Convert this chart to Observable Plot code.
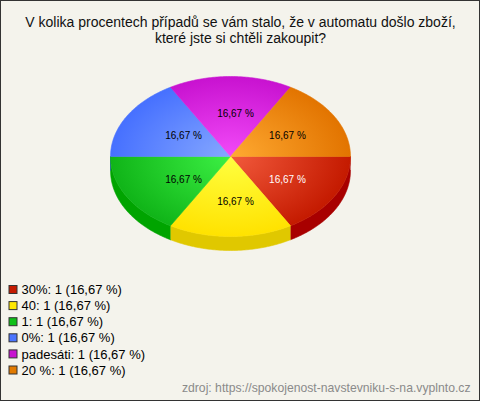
<!DOCTYPE html>
<html><head><meta charset="utf-8">
<script src="https://cdn.jsdelivr.net/npm/d3@7"></script>
<script src="https://cdn.jsdelivr.net/npm/@observablehq/plot@0.6"></script>
<style>
html,body{margin:0;padding:0;background:#fff;}
#chart{position:relative;width:480px;height:401px;background:#f4f3ec;overflow:hidden;}
#chart svg{position:absolute;left:0;top:0;}
#border{position:absolute;left:0;top:0;width:480px;height:401px;box-sizing:border-box;border:1px solid #333;pointer-events:none;z-index:2;}
</style></head><body>
<div id="chart"><div id="border"></div></div>
<script>
// ---- data ----
const titleLines = ["V kolika procentech případů se vám stalo, že v automatu došlo zboží,", "které jste si chtěli zakoupit?"];
const categories = ["30%", "40", "1", "0%", "padesáti", "20 %"];
const counts = [1, 1, 1, 1, 1, 1];
const sourceText = ["zdroj: https://spokojenost-navstevniku-s-na.vyplnto.cz"];

// ---- styles ----
const topInner = ["#f25a3c", "#ffff40", "#3cf044", "#86a8ff", "#f24af8", "#ffaa32"];
const topOuter = ["#c41a00", "#ffe200", "#10b418", "#4670ff", "#c812d0", "#e27400"];
const sideColors = ["#a80000", "#e0c800", "#00a400", "#2850d0", "#9a00a8", "#b85800"];
const legendColors = ["#c41a00", "#ffe800", "#10c018", "#4a74ff", "#c812d0", "#e27a00"];
const font = "Arial, 'Liberation Sans', sans-serif";

// ---- layout ----
const W = 480, H = 401, cx = 230, cy = 156, rx = 120, ry = 80, depth = 14;
const labelKx = 0.5, labelKy = 0.55, labelDx = 5, labelDy = 1;
const legendX = 9, legendY0 = 289.5, legendStep = 16.1;

const total = d3.sum(counts);
const fmt = v => (v / total * 100).toFixed(2).replace(".", ",") + " %";
const arcs = d3.pie().sort(null).startAngle(Math.PI / 2).endAngle(Math.PI / 2 + 2 * Math.PI)(counts);
const slices = arcs.map((a, i) => ({
  i, cat: categories[i], value: a.value,
  p0: a.startAngle - Math.PI / 2, p1: a.endAngle - Math.PI / 2
}));
const pt = (phi, dy = 0) => ({x: cx + rx * Math.cos(phi), y: cy + ry * Math.sin(phi) + dy});
function arcPts(p0, p1, dy = 0, n = 80) {
  const out = [];
  for (let k = 0; k <= n; k++) out.push(pt(p0 + (p1 - p0) * k / n, dy));
  return out;
}

const marks = [];
// side walls (front half only)
slices.forEach(s => {
  const lo = Math.max(s.p0, 0), hi = Math.min(s.p1, Math.PI);
  if (lo < hi) {
    const pts = [...arcPts(lo, hi, 0), ...arcPts(hi, lo, depth)];
    marks.push(Plot.line(pts, {x: "x", y: "y", fill: sideColors[s.i], stroke: sideColors[s.i], strokeWidth: 0.6, curve: "linear"}));
  }
});
// top faces
slices.forEach(s => {
  const pts = [{x: cx, y: cy}, ...arcPts(s.p0, s.p1, 0), {x: cx, y: cy}];
  marks.push(Plot.line(pts, {x: "x", y: "y", fill: `url(#g${s.i})`, stroke: `url(#g${s.i})`, strokeWidth: 0.6, curve: "linear"}));
});
// slice labels
marks.push(Plot.text(slices, {
  x: d => cx + labelKx * rx * Math.cos((d.p0 + d.p1) / 2) + labelDx,
  y: d => cy + labelKy * ry * Math.sin((d.p0 + d.p1) / 2) + labelDy,
  text: d => fmt(d.value),
  fill: d => d.i === 0 ? "#ffffff" : "#000000",
  fontSize: 10, fontFamily: font, textAnchor: "middle", lineAnchor: "middle"
}));
// title
marks.push(Plot.text(titleLines, {
  x: W / 2, y: (d, i) => 22 + i * 16, text: d => d,
  fill: "#111", fontSize: 14, fontFamily: font, textAnchor: "middle", lineAnchor: "middle"
}));
// legend
marks.push(Plot.rect(slices, {
  x1: legendX, x2: legendX + 8,
  y1: d => legendY0 + d.i * legendStep - 4, y2: d => legendY0 + d.i * legendStep + 4,
  fill: d => legendColors[d.i], stroke: "#333", strokeWidth: 1
}));
marks.push(Plot.text(slices, {
  x: legendX + 12, y: d => legendY0 + d.i * legendStep,
  text: d => `${d.cat}: ${d.value} (${fmt(d.value)})`,
  fill: "#000", fontSize: 13, fontFamily: font, textAnchor: "start", lineAnchor: "middle"
}));
// source
marks.push(Plot.text(sourceText, {
  x: 470, y: 388, text: d => d, fill: "#8a8a8a", fontSize: 12.2, fontFamily: font, textAnchor: "end", lineAnchor: "middle"
}));

const plot = Plot.plot({
  width: W, height: H, margin: 0,
  x: {domain: [0, W], range: [0, W], axis: null},
  y: {domain: [0, H], range: [0, H], axis: null},
  color: {type: "identity"},
  style: {background: "transparent", overflow: "visible"},
  marks
});

const svg = d3.select(plot);
const defs = svg.insert("defs", ":first-child");
slices.forEach(s => {
  const g = defs.append("radialGradient").attr("id", "g" + s.i)
    .attr("gradientUnits", "userSpaceOnUse")
    .attr("cx", cx).attr("cy", cy).attr("r", rx)
    .attr("gradientTransform", `translate(${cx},${cy}) scale(1,${ry / rx}) translate(${-cx},${-cy})`);
  g.append("stop").attr("offset", 0).attr("stop-color", topInner[s.i]);
  g.append("stop").attr("offset", 1).attr("stop-color", topOuter[s.i]);
});
document.getElementById("chart").appendChild(plot);
</script>
</body></html>
